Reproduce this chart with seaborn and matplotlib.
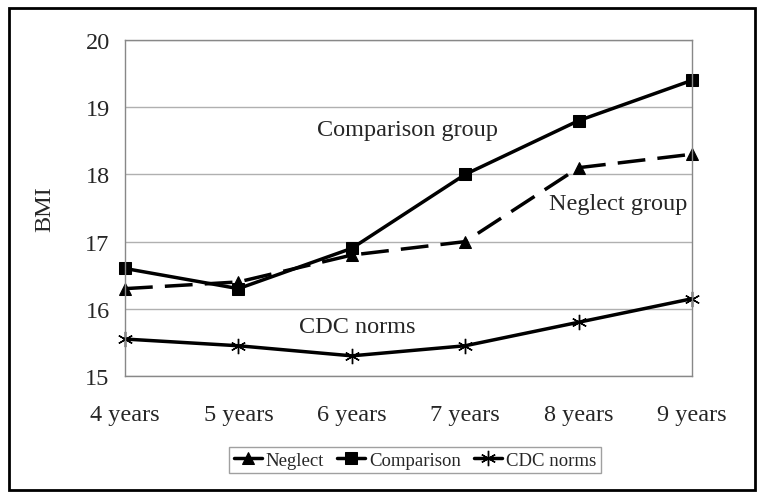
import pandas as pd
import matplotlib.pyplot as plt
import seaborn as sns
from matplotlib.patches import Rectangle

ages = ['4 years', '5 years', '6 years', '7 years', '8 years', '9 years']
neglect = [16.3, 16.4, 16.8, 17.0, 18.1, 18.3]
comparison = [16.6, 16.3, 16.9, 18.0, 18.8, 19.4]
cdc_norms = [15.55, 15.45, 15.3, 15.45, 15.8, 16.15]

sns.set_style('white')
plt.rcParams['font.family'] = ['Liberation Serif', 'DejaVu Serif']

fig = plt.figure(figsize=(7.64, 5.02), dpi=100)
ax = fig.add_axes([125 / 764, 1 - 377 / 502, 567 / 764, 336 / 502])

# Draw the three series, one call each (mixed marker kinds)
sns.lineplot(x=ages, y=neglect, color='black', marker='^', markersize=9,
             markeredgecolor='black', linewidth=2.5, label='Neglect', ax=ax)
sns.lineplot(x=ages, y=comparison, color='black', marker='s', markersize=9,
             markeredgecolor='black', linewidth=2.5, label='Comparison', ax=ax)
sns.lineplot(x=ages, y=cdc_norms, color='black', marker=(6, 2, 0), markersize=11,
             markeredgecolor='black', markeredgewidth=1, linewidth=2.5,
             label='CDC norms', ax=ax)

lines = ax.lines[:3]
lines[0].set_dashes((8, 3.5))
lines[1].set_linestyle('-')
lines[2].set_linestyle('-')
for ln in lines:
    ln.set_clip_on(False)

ax.set_xlim(0, 5)
ax.set_ylim(15, 20)
ax.set_yticks([15, 16, 17, 18, 19, 20])
ax.yaxis.grid(True, color='#b0b0b0', linewidth=1)
ax.set_axisbelow(True)
for s in ax.spines.values():
    s.set_color('#888888')
    s.set_linewidth(1)
ax.tick_params(axis='both', direction='out', length=6, color='#999999',
               labelsize=17.5, pad=14)
ax.tick_params(axis='y', pad=5)
ax.set_xlabel('')
ax.set_ylabel('BMI', fontsize=17.5, labelpad=22)

# Labels on the lines
ax.text(2.49, 18.67, 'Comparison group', fontsize=17.5, ha='center', va='center')
ax.text(4.35, 17.57, 'Neglect group', fontsize=17.5, ha='center', va='center')
ax.text(2.05, 15.73, 'CDC norms', fontsize=17.5, ha='center', va='center')

# Legend under the axis
leg = ax.legend(handles=lines, labels=['Neglect', 'Comparison', 'CDC norms'],
                loc='center', bbox_to_anchor=(415 / 764, 1 - 461 / 502),
                bbox_transform=fig.transFigure, ncol=3, fontsize=13.5,
                frameon=True, fancybox=False, handlelength=1.5,
                handletextpad=0.2, columnspacing=0.7, borderpad=0.25)
leg.get_frame().set_edgecolor('#888888')
leg.get_frame().set_linewidth(1)
for ln in leg.get_lines():
    ln.set_linestyle('-')

# Outer frame
fig.patches.append(Rectangle((9 / 764, 1 - 491 / 502), 746 / 764, 482 / 502,
                             transform=fig.transFigure, fill=False,
                             edgecolor='black', linewidth=2))

plt.savefig('out.png', dpi=100)
